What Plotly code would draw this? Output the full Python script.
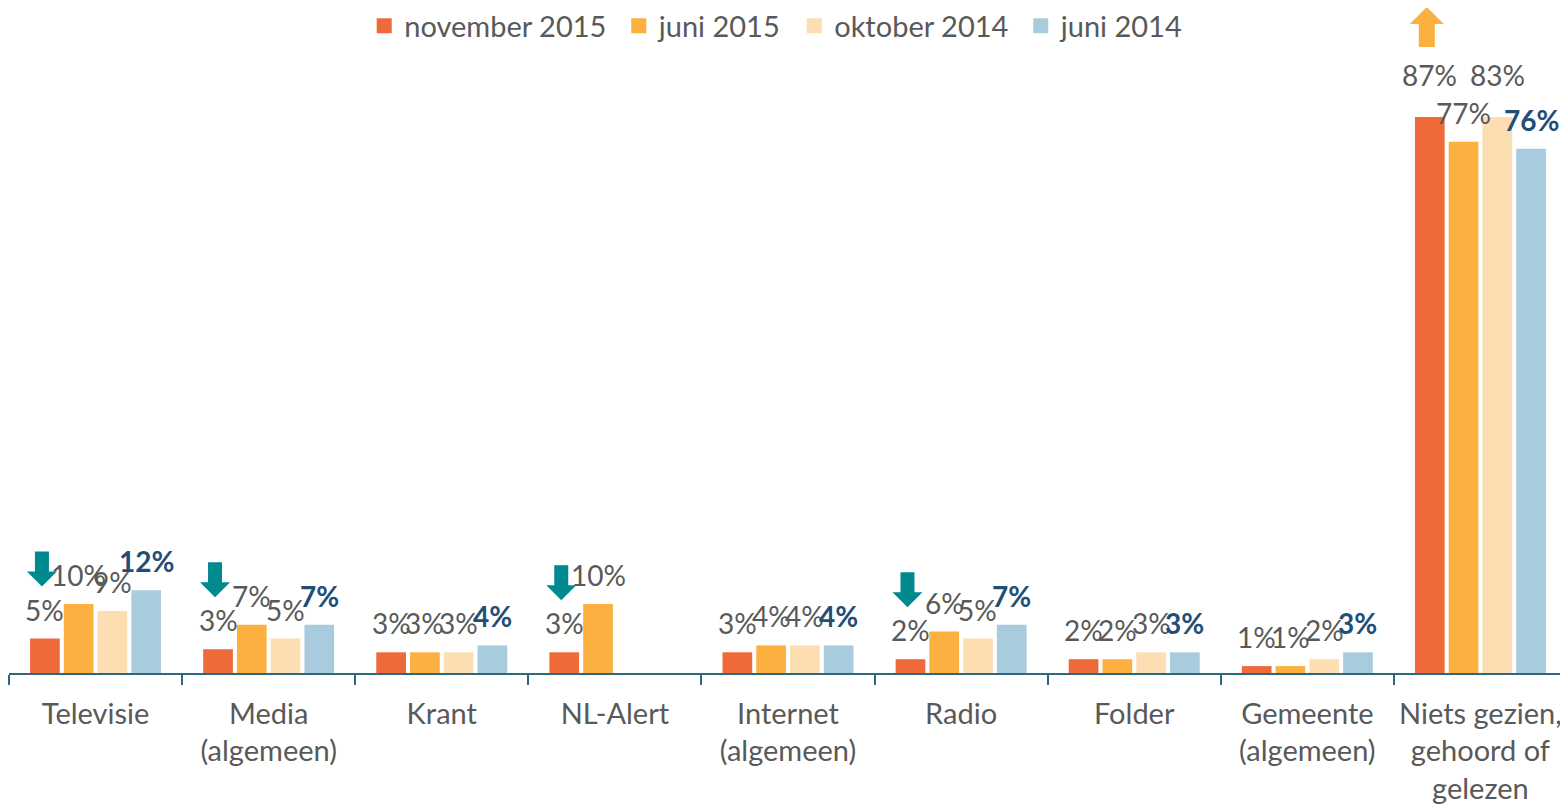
import plotly.graph_objects as go

categories = ["Televisie", "Media<br>(algemeen)", "Krant", "NL-Alert", "Internet<br>(algemeen)",
              "Radio", "Folder", "Gemeente<br>(algemeen)", "Niets gezien,<br>gehoord of<br>gelezen"]
series_names = ["november 2015", "juni 2015", "oktober 2014", "juni 2014"]
nov_2015 = [5, 3.45, 3, 3, 3, 2, 2, 1, 87]
juni_2015 = [10, 7, 3, 10, 4, 6, 2, 1, 77]
okt_2014 = [9, 5, 3, None, 4, 5, 3, 2, 83]
juni_2014 = [12, 7, 4, None, 4, 7, 3, 3, 76]
trend_arrows = ["down", "down", None, "down", None, "down", None, None, "up"]

colors = ["#EE6A3A", "#FBB040", "#FDDEB2", "#A8CCDD"]
label_colors = ["#595959", "#595959", "#595959", "#1F4E79"]
FONT = "Lato"
# page body has an 8px margin, so the figure is sized to fit the window
W, H = 1560, 800
ML, MR, MT, MB = 1, 1, 109, 135
YMAX = 80.6
BARGAP = 0.22

fig = go.Figure()
all_series = [nov_2015, juni_2015, okt_2014, juni_2014]
for name, vals, col in zip(series_names, all_series, colors):
    fig.add_trace(go.Bar(x=categories, y=vals, name=name, marker=dict(color=col, line=dict(width=0)),
                         hoverinfo="skip", showlegend=False, legendgroup=name))
# legend entries with larger square swatches
for name, col in zip(series_names, colors):
    fig.add_trace(go.Scatter(x=[None], y=[None], mode="markers", name=name + "\u00a0",
                             legendgroup=name,
                             marker=dict(symbol="square", size=15, color=col), hoverinfo="skip"))

plot_w = W - ML - MR
plot_h = H - MT - MB
cat_px = plot_w / len(categories)
slot = cat_px * (1 - BARGAP) / 4

annotations = []
for si, vals in enumerate(all_series):
    for ci, v in enumerate(vals):
        if v is None:
            continue
        clipped = v > YMAX
        annotations.append(dict(
            x=categories[ci], y=min(v, YMAX), xref="x", yref="y", text=f"{round(v)}%",
            showarrow=False, xanchor="center", yanchor="middle",
            xshift=(si - 1.5) * slot, yshift=42 if clipped else 29,
            font=dict(family=FONT, size=28, color=label_colors[si],
                      weight="bold" if si == 3 else "normal")))

shapes = []
for ci, d in enumerate(trend_arrows):
    if d is None:
        continue
    v = min(nov_2015[ci], YMAX)
    cx = -1.5 * slot - 3
    if d == "down":
        b, hh, top, hw, sw = 52, 15, 87, 15, 7
        path = (f"M {cx-sw},{top} L {cx+sw},{top} L {cx+sw},{b+hh} L {cx+hw},{b+hh} "
                f"L {cx},{b} L {cx-hw},{b+hh} L {cx-sw},{b+hh} Z")
        col = "#00898F"
    else:
        b, hh, top, hw, sw = 70, 17, 110, 17, 8
        path = (f"M {cx-sw},{b} L {cx+sw},{b} L {cx+sw},{top-hh} L {cx+hw},{top-hh} "
                f"L {cx},{top} L {cx-hw},{top-hh} L {cx-sw},{top-hh} Z")
        col = "#FBB040"
    shapes.append(dict(type="path", xref="x", yref="paper", xsizemode="pixel", ysizemode="pixel",
                       xanchor=ci, yanchor=v / YMAX, path=path, fillcolor=col, line=dict(width=0)))

fig.update_layout(
    width=W, height=H,
    margin=dict(l=ML, r=MR, t=MT, b=MB, pad=0, autoexpand=False),
    paper_bgcolor="white", plot_bgcolor="white",
    barmode="group", bargap=BARGAP, bargroupgap=0.12,
    font=dict(family=FONT, size=29, color="#595959"),
    showlegend=True,
    legend=dict(orientation="h", x=0.495, xanchor="center", y=1 + (MT - 18) / plot_h,
                yanchor="middle", font=dict(family=FONT, size=29, color="#595959"),
                itemclick=False, itemdoubleclick=False, traceorder="normal", itemsizing="trace"),
    xaxis=dict(type="category", categoryorder="array", categoryarray=categories,
               range=[-0.5, len(categories) - 0.5], automargin=False,
               showline=True, linecolor="#2F6680", linewidth=1.5,
               ticks="outside", tickson="boundaries", ticklen=10, tickcolor="#2F6680", tickwidth=1.5,
               ticklabelstandoff=14,
               showgrid=False, tickfont=dict(family=FONT, size=29, color="#595959"), fixedrange=True),
    yaxis=dict(range=[0, YMAX], visible=False, showgrid=False, fixedrange=True, automargin=False),
    annotations=annotations,
    shapes=shapes,
)

fig.write_html("out.html")
